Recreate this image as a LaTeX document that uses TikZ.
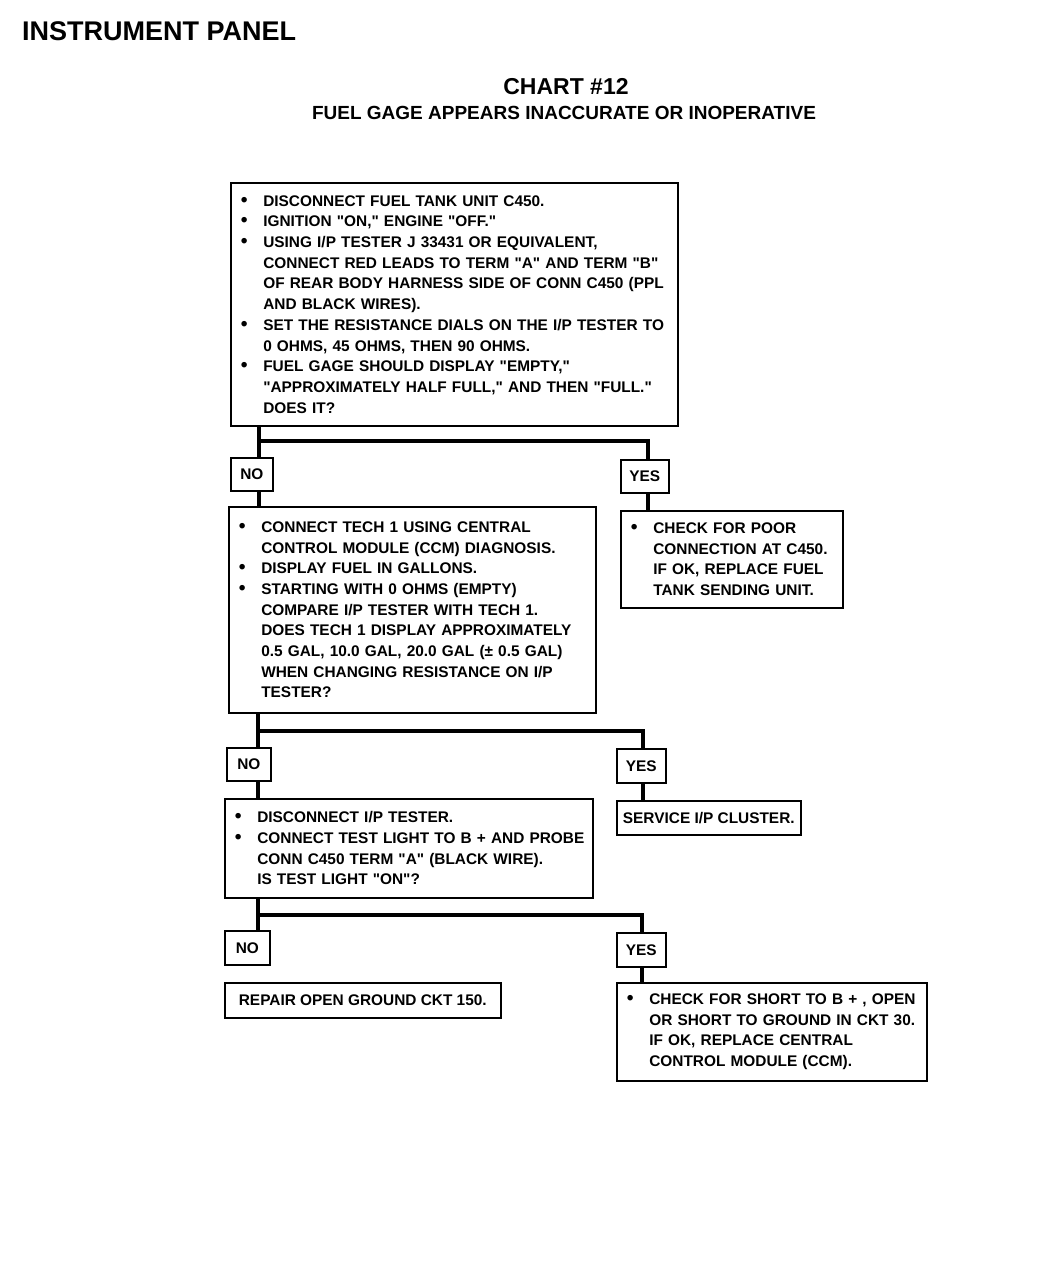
\documentclass[tikz,border=0pt]{standalone}
\usepackage{fontspec}
\setmainfont{Liberation Sans}[Ligatures=TeXOff]
\usepackage{tikz}

\newcommand{\bul}{\makebox[22.5pt][l]{\scalebox{1.25}{•}}}
\newcommand{\ind}{\hspace*{22.5pt}}
\hyphenpenalty=10000
\exhyphenpenalty=10000

\begin{document}
\begin{tikzpicture}[x=1pt, y=-1pt,
		stepbox/.style={draw, line width=1.6pt, anchor=north west, align=left, inner xsep=10pt, inner ysep=0pt, font=\bfseries\fontsize{15.4}{20.7}\selectfont},
		onebox/.style={draw, line width=1.6pt, anchor=north west, inner sep=0pt, font=\bfseries\fontsize{15.4}{20.7}\selectfont},
		tag/.style={draw, line width=1.6pt, anchor=north west, inner sep=0pt, font=\bfseries\fontsize{15.4}{20.7}\selectfont},
		conn/.style={line width=4pt}]
				\useasboundingbox (0,0) rectangle (1056,1280);
				% headings
				\node[anchor=base west, inner sep=0pt, font=\bfseries\fontsize{27}{30}\selectfont] (Head) at (22,40) {INSTRUMENT PANEL};
				\node[anchor=base, inner sep=0pt, font=\bfseries\fontsize{23}{26}\selectfont] (Chart) at (566,94) {CHART \#12};
				\node[anchor=base, inner sep=0pt, font=\bfseries\fontsize{19}{22}\selectfont] (Title) at (564,119) {FUEL GAGE APPEARS INACCURATE OR INOPERATIVE};
				% boxes
				\node[stepbox, text width=427pt, minimum height=243pt] (Disc) at (230,182) {\bul DISCONNECT FUEL TANK UNIT C450.\\ \bul IGNITION "ON," ENGINE "OFF."\\ \bul USING I/P TESTER J 33431 OR EQUIVALENT,\\ \ind CONNECT RED LEADS TO TERM "A" AND TERM "B"\\ \ind OF REAR BODY HARNESS SIDE OF CONN C450 (PPL\\ \ind AND BLACK WIRES).\\ \bul SET THE RESISTANCE DIALS ON THE I/P TESTER TO\\ \ind 0 OHMS, 45 OHMS, THEN 90 OHMS.\\ \bul FUEL GAGE SHOULD DISPLAY "EMPTY,"\\ \ind "APPROXIMATELY HALF FULL," AND THEN "FULL."\\ \ind DOES IT?};
				\node[tag, minimum width=42pt, minimum height=33pt] (No1) at (230,457) {NO};
				\node[tag, minimum width=48pt, minimum height=33pt] (Yes1) at (620,459) {YES};
				\node[stepbox, text width=347pt, minimum height=206pt] (Tech) at (228,506) {\bul CONNECT TECH 1 USING CENTRAL\\ \ind CONTROL MODULE (CCM) DIAGNOSIS.\\ \bul DISPLAY FUEL IN GALLONS.\\ \bul STARTING WITH 0 OHMS (EMPTY)\\ \ind COMPARE I/P TESTER WITH TECH 1.\\ \ind DOES TECH 1 DISPLAY APPROXIMATELY\\ \ind 0.5 GAL, 10.0 GAL, 20.0 GAL (± 0.5 GAL)\\ \ind WHEN CHANGING RESISTANCE ON I/P\\ \ind TESTER?};
				\node[stepbox, text width=202pt, minimum height=97pt] (Poor) at (620,510) {\bul CHECK FOR POOR\\ \ind CONNECTION AT C450.\\ \ind IF OK, REPLACE FUEL\\ \ind TANK SENDING UNIT.};
				\node[tag, minimum width=44pt, minimum height=33pt] (No2) at (226,747) {NO};
				\node[tag, minimum width=49pt, minimum height=34pt] (Yes2) at (616,748) {YES};
				\node[stepbox, text width=348pt, minimum height=99pt] (Test) at (224,798) {\bul DISCONNECT I/P TESTER.\\ \bul \mbox{CONNECT TEST LIGHT TO B + AND PROBE}\\ \ind CONN C450 TERM "A" (BLACK WIRE).\\ \ind IS TEST LIGHT "ON"?};
				\node[onebox, minimum width=184pt, minimum height=34pt] (Serv) at (616,800) {SERVICE I/P CLUSTER.};
				\node[tag, minimum width=45pt, minimum height=34pt] (No3) at (224,930) {NO};
				\node[tag, minimum width=49pt, minimum height=34pt] (Yes3) at (616,932) {YES};
				\node[onebox, minimum width=276pt, minimum height=35pt] (Repair) at (224,982) {REPAIR OPEN GROUND CKT 150.};
				\node[stepbox, text width=290pt, minimum height=98pt] (Short) at (616,982) {\bul CHECK FOR SHORT TO B + , OPEN\\ \ind OR SHORT TO GROUND IN CKT 30.\\ \ind IF OK, REPLACE CENTRAL\\ \ind CONTROL MODULE (CCM).};
				% connectors
				\coordinate (J1) at (259,441);
				\coordinate (J1r) at (648,441);
				\draw[conn] (Disc.south -| J1) -- (No1.north -| J1);
				\draw[conn] (J1) -- (J1r) -- (Yes1.north -| J1r);
				\draw[conn] (No1.south -| J1) -- (Tech.north -| J1);
				\draw[conn] (Yes1.south -| J1r) -- (Poor.north -| J1r);
				\coordinate (J2) at (258,731);
				\coordinate (J2r) at (643,731);
				\draw[conn] (Tech.south -| J2) -- (No2.north -| J2);
				\draw[conn] (J2) -- (J2r) -- (Yes2.north -| J2r);
				\draw[conn] (No2.south -| J2) -- (Test.north -| J2);
				\draw[conn] (Yes2.south -| J2r) -- (Serv.north -| J2r);
				\coordinate (J3) at (258,915);
				\coordinate (J3r) at (642,915);
				\draw[conn] (Test.south -| J3) -- (No3.north -| J3);
				\draw[conn] (J3) -- (J3r) -- (Yes3.north -| J3r);
				\draw[conn] (Yes3.south -| J3r) -- (Short.north -| J3r);
			\end{tikzpicture}
\end{document}
